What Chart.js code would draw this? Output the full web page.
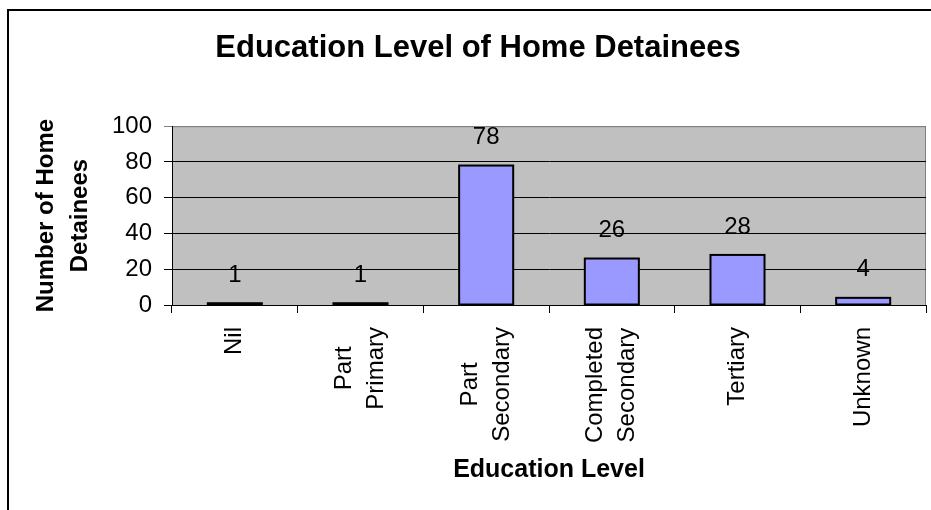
<!DOCTYPE html>
<html>
<head>
<meta charset="utf-8">
<title>Education Level of Home Detainees</title>
<script src="https://cdn.jsdelivr.net/npm/chart.js@4/dist/chart.umd.min.js"></script>
<style>
  html, body { margin: 0; padding: 0; background: #fff; overflow: hidden; }
  #wrap { position: relative; width: 931px; height: 510px; }
</style>
</head>
<body>
<div id="wrap"><canvas id="myChart"></canvas></div>
<script>
// data
const educationLevels = [["Nil"], ["Part", "Primary"], ["Part", "Secondary"], ["Completed", "Secondary"], ["Tertiary"], ["Unknown"]];
const detaineeCounts = [1, 1, 78, 26, 28, 4];
const yTickValues = [0, 20, 40, 60, 80, 100];

const FONT = "'Liberation Sans', Arial, sans-serif";

document.addEventListener("DOMContentLoaded", function () {
  const canvas = document.getElementById("myChart");
  if (!canvas) return;
  const ctx = canvas.getContext("2d");

  // grey plot area + outer frame
  const plotBackground = {
    id: "plotBackground",
    beforeDraw(chart) {
      const { ctx, chartArea: a } = chart;
      ctx.save();
      ctx.fillStyle = "#C0C0C0";
      ctx.fillRect(a.left, a.top, a.right - a.left, a.bottom - a.top);
      ctx.strokeStyle = "#808080";
      ctx.lineWidth = 1;
      ctx.strokeRect(a.left + 0.5, a.top + 0.5, a.right - a.left - 1, a.bottom - a.top);
      // frame round the whole chart
      ctx.strokeStyle = "#000";
      ctx.lineWidth = 2;
      ctx.beginPath();
      ctx.moveTo(8, chart.height);
      ctx.lineTo(8, 10);
      ctx.lineTo(chart.width, 10);
      ctx.stroke();
      ctx.restore();
    },
  };

  // x labels: rotated, lines centred on each other (like Excel)
  const xLabels = {
    id: "xLabels",
    afterDraw(chart) {
      const { ctx } = chart;
      const xScale = chart.scales.x;
      const lh = 32;
      ctx.save();
      ctx.font = "24px " + FONT;
      ctx.fillStyle = "#000";
      ctx.textAlign = "center";
      ctx.textBaseline = "middle";
      educationLevels.forEach((lines, i) => {
        const x = xScale.getPixelForValue(i);
        const maxW = Math.max(...lines.map((l) => ctx.measureText(l).width));
        ctx.save();
        ctx.translate(x, xScale.top + 22);
        ctx.rotate(-Math.PI / 2);
        lines.forEach((line, k) => {
          ctx.fillText(line, -maxW / 2, (k - (lines.length - 1) / 2) * lh);
        });
        ctx.restore();
      });
      ctx.restore();
    },
  };

  // black outline centred on the bar edge (Excel style) + value above each bar
  const barValues = {
    id: "barValues",
    afterDatasetsDraw(chart) {
      const { ctx } = chart;
      const meta = chart.getDatasetMeta(0);
      ctx.save();
      ctx.strokeStyle = "#000";
      ctx.lineWidth = 2;
      meta.data.forEach((bar) => {
        const { x, y, base, width } = bar.getProps(["x", "y", "base", "width"], true);
        ctx.strokeRect(x - width / 2, y, width, base - y);
      });
      ctx.font = "24px " + FONT;
      ctx.fillStyle = "#000";
      ctx.textAlign = "center";
      ctx.textBaseline = "middle";
      meta.data.forEach((bar, i) => {
        ctx.fillText(detaineeCounts[i], bar.x, bar.y - 28);
      });
      ctx.restore();
    },
  };

  new Chart(ctx, {
    type: "bar",
    data: {
      labels: educationLevels,
      datasets: [{
        data: detaineeCounts,
        backgroundColor: "#9999FF",
        borderWidth: 0,
        inflateAmount: 0,
        barPercentage: 0.43,
        categoryPercentage: 1.0,
      }],
    },
    plugins: [plotBackground, xLabels, barValues],
    options: {
      responsive: true,
      maintainAspectRatio: false,
      animation: false,
      layout: { padding: { left: 30, right: 5, top: 0, bottom: 0 } },
      plugins: {
        legend: { display: false },
        tooltip: { enabled: false },
        title: {
          display: true,
          text: "Education Level of Home Detainees",
          color: "#000",
          font: { family: FONT, size: 31, weight: "bold", lineHeight: 1.2 },
          padding: { top: 30, bottom: 59 },
        },
      },
      scales: {
        x: {
          afterFit(scale) { scale.height = 205; },
          ticks: { display: false },
          grid: {
            offset: true,
            drawOnChartArea: false,
            drawTicks: true,
            tickLength: 8,
            color: "#000",
          },
          border: { display: true, color: "#000", width: 1 },
          title: {
            display: true,
            text: "Education Level",
            color: "#000",
            font: { family: FONT, size: 25, weight: "bold", lineHeight: 1.2 },
            padding: { top: 0, bottom: 25 },
          },
        },
        y: {
          min: 0,
          max: 100,
          afterFit(scale) { scale.width = 142; },
          afterBuildTicks(scale) {
            scale.ticks = yTickValues.map((v) => ({ value: v }));
          },
          ticks: {
            color: "#000",
            padding: 12,
            font: { family: FONT, size: 24 },
          },
          grid: {
            color: (c) => (c.tick && c.tick.value === 100 ? "#808080" : "#000"),
            lineWidth: 1,
            tickLength: 8,
          },
          border: { display: true, color: "#000", width: 1 },
          title: {
            display: true,
            text: ["Number of Home", "Detainees"],
            color: "#000",
            font: { family: FONT, size: 24, weight: "bold", lineHeight: 1.4 },
            padding: { top: 0, bottom: 0 },
          },
        },
      },
    },
  });
});
</script>
</body>
</html>
